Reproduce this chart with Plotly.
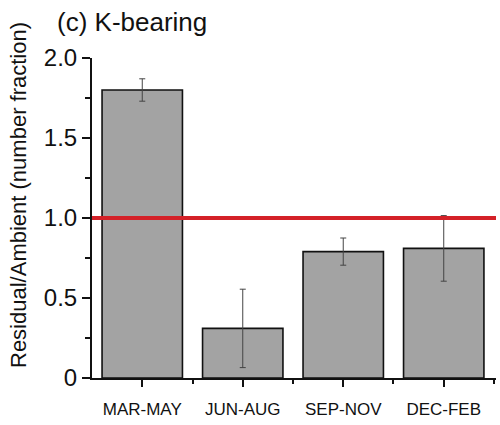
import plotly.graph_objects as go

categories = ["MAR-MAY", "JUN-AUG", "SEP-NOV", "DEC-FEB"]
values = [1.80, 0.31, 0.79, 0.81]
errors = [0.07, 0.245, 0.085, 0.205]
reference_level = 1.0
y_tickvals = [0, 0.5, 1.0, 1.5, 2.0]
y_ticktext = ["0", "0.5", "1.0", "1.5", "2.0"]

FONT = "Liberation Sans, Arial, sans-serif"
xpos = list(range(len(categories)))

fig = go.Figure()
fig.add_trace(go.Bar(
    x=xpos, y=values, width=0.8,
    marker=dict(color="#a3a3a3", line=dict(color="#111111", width=1.6)),
    error_y=dict(type="data", array=errors, visible=True,
                 color="#444444", thickness=1, width=3),
    showlegend=False,
))
fig.add_shape(type="line", xref="paper", x0=0, x1=1, yref="y",
              y0=reference_level, y1=reference_level,
              line=dict(color="#d42128", width=4))

fig.update_layout(
    width=500, height=425,
    margin=dict(l=92, r=4, t=58, b=47),
    paper_bgcolor="white", plot_bgcolor="white",
    font=dict(family=FONT, color="#111111"),
    bargap=0.2,
    xaxis=dict(
        range=[-0.5, 3.52], tickvals=xpos, ticktext=categories,
        showline=True, linecolor="#111111", linewidth=2,
        ticks="outside", ticklen=7, tickwidth=2, tickcolor="#111111",
        tickfont=dict(size=17, family=FONT), ticklabelstandoff=8,
        minor=dict(tickvals=[0.5, 1.5, 2.5, 3.5], ticks="outside", ticklen=4,
                   tickwidth=2, tickcolor="#111111"),
        showgrid=False, zeroline=False,
    ),
    yaxis=dict(
        range=[0, 2.0], tickvals=y_tickvals, ticktext=y_ticktext,
        showline=True, linecolor="#111111", linewidth=2,
        ticks="outside", ticklen=8, tickwidth=2, tickcolor="#111111",
        tickfont=dict(size=24, family=FONT),
        minor=dict(tickvals=[0.25, 0.75, 1.25, 1.75], ticks="outside", ticklen=5,
                   tickwidth=2, tickcolor="#111111"),
        showgrid=False, zeroline=False,
    ),
    annotations=[
        dict(text="(c) K-bearing", xref="paper", yref="paper",
             x=-92/404, y=1 + 36/320, xanchor="left", yanchor="middle",
             xshift=55, showarrow=False, font=dict(size=26, family=FONT)),
        dict(text="Residual/Ambient (number fraction)", xref="paper", yref="paper",
             x=-92/404, xshift=18, y=(378-195)/320, yanchor="middle", xanchor="center",
             textangle=-90, showarrow=False, font=dict(size=22, family=FONT)),
    ],
)

fig.write_html("out.html")
